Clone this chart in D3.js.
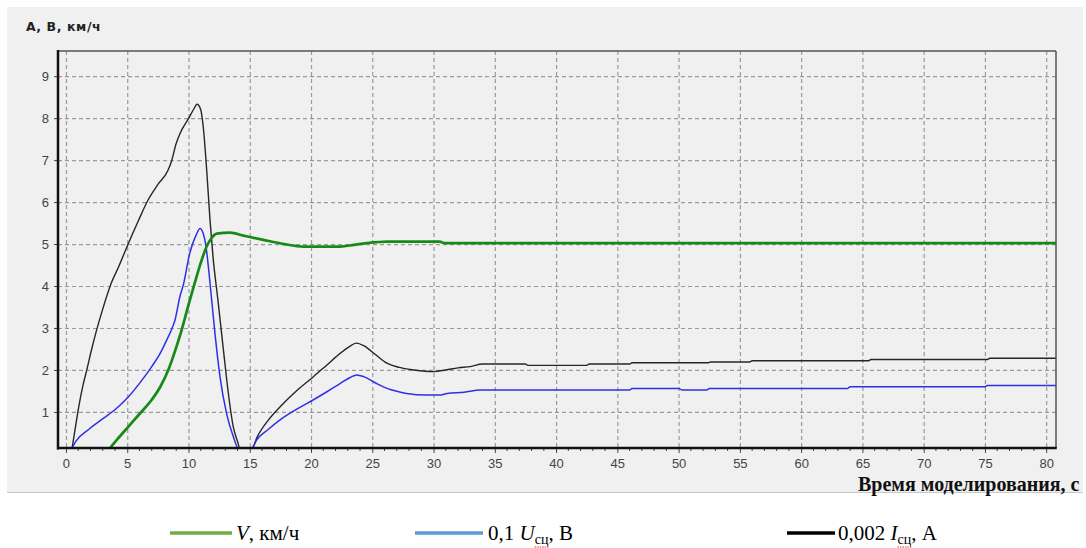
<!DOCTYPE html>
<html><head><meta charset="utf-8">
<script src="https://cdn.jsdelivr.net/npm/d3@7"></script>
<style>body{margin:0;background:#fff}svg{display:block}</style>
</head><body>
<script>
// ---- data ----
const xTicks = [0,5,10,15,20,25,30,35,40,45,50,55,60,65,70,75,80];
const yTicks = [1,2,3,4,5,6,7,8,9];

const tI = [0.5,0.7,1.0,1.4,1.7,2.1,2.5,3.0,3.7,4.3,5.1,5.9,6.7,7.5,8.3,8.6,9.0,9.3,10.0,10.4,10.7,11.0,11.2,11.5,11.75,12.0,12.4,12.85,13.25,13.65,14.0,14.2,15.2,15.6,16.5,17.5,18.8,20.2,21.3,22.4,23.1,23.7,24.3,25.2,26.2,27.2,28.4,30.0,31.0,32.0,33.0,34.0,37.5,37.7,42.5,42.7,46.0,46.2,52.4,52.6,55.8,56.0,65.5,65.7,75.2,75.4,80.8];
const vI = [0.14,0.5,1.05,1.65,2.0,2.5,2.95,3.45,4.07,4.46,5.02,5.55,6.05,6.42,6.74,6.96,7.4,7.63,7.99,8.2,8.33,8.2,7.8,6.7,5.6,4.7,3.67,2.48,1.45,0.65,0.3,0.14,0.14,0.4,0.8,1.13,1.5,1.84,2.12,2.4,2.55,2.64,2.58,2.38,2.16,2.06,2.0,1.96,2.0,2.05,2.08,2.14,2.14,2.11,2.11,2.14,2.14,2.17,2.17,2.19,2.19,2.22,2.22,2.25,2.25,2.28,2.28];

const tU = [0.5,0.8,1.8,2.6,3.45,4.3,5.1,6.0,7.0,7.7,8.2,8.6,8.9,9.3,9.6,10.1,10.6,10.94,11.2,11.4,11.76,12.16,12.57,13.1,13.66,14.07,15.16,15.56,16.5,17.47,18.8,20.2,21.3,22.4,23.2,23.73,24.3,25.2,26.2,27.0,27.8,29.4,30.5,31.1,32.5,33.8,46.0,46.2,50.0,50.3,52.3,52.5,63.8,64.0,75.0,75.2,80.8];
const vU = [0.14,0.3,0.57,0.75,0.93,1.13,1.36,1.68,2.08,2.4,2.7,2.95,3.19,3.75,4.05,4.78,5.2,5.37,5.25,5.0,4.06,2.87,1.84,0.97,0.41,0.14,0.14,0.33,0.58,0.81,1.06,1.29,1.48,1.68,1.82,1.88,1.84,1.7,1.56,1.49,1.44,1.40,1.40,1.44,1.47,1.52,1.52,1.56,1.56,1.52,1.52,1.56,1.56,1.60,1.60,1.63,1.63];

const tV = [3.6,4.2,5.1,6.0,7.0,7.7,8.35,8.9,9.44,10.0,10.5,11.0,11.48,11.9,12.3,13.4,14.5,16.1,17.8,19.4,22.4,23.5,24.5,26.2,30.5,30.9,80.8];
const vV = [0.14,0.35,0.65,0.95,1.29,1.6,2.0,2.45,2.95,3.55,4.06,4.55,4.94,5.15,5.25,5.27,5.2,5.1,5.0,4.94,4.94,4.98,5.02,5.06,5.06,5.02,5.02];

// ---- layout ----
const W = 1086, H = 548;
const svg = d3.select("body").append("svg").attr("width", W).attr("height", H);
svg.append("rect").attr("x",0).attr("y",0).attr("width",W).attr("height",H).attr("fill","#fff");
svg.append("rect").attr("x",7).attr("y",7).attr("width",1076).attr("height",485).attr("fill","#f0f0f0");
svg.append("line").attr("x1",7).attr("x2",1083).attr("y1",492.5).attr("y2",492.5).attr("stroke","#c8c8c8").attr("stroke-width",1);

const L = 58, R = 1056, T = 51, B = 448;
const x = d3.scaleLinear().domain([-0.65, 80.8]).range([L, R]);
const y = d3.scaleLinear().domain([0.14, 9.6]).range([B, T]);

const g = svg.append("g");
// grid
g.selectAll(".vg").data(xTicks).enter().append("line")
  .attr("x1", d=>x(d)+0.5).attr("x2", d=>x(d)+0.5).attr("y1", T).attr("y2", B)
  .attr("stroke","#9a9a9a").attr("stroke-width",1.2).attr("stroke-dasharray","4,3");
g.selectAll(".hg").data(yTicks).enter().append("line")
  .attr("y1", d=>y(d)+0.5).attr("y2", d=>y(d)+0.5).attr("x1", L).attr("x2", R)
  .attr("stroke","#9a9a9a").attr("stroke-width",1.2).attr("stroke-dasharray","4,3");

// series
svg.append("clipPath").attr("id","clip").append("rect").attr("x",L).attr("y",T).attr("width",R-L).attr("height",B-T);
const line = d3.line().x(d=>x(d[0])).y(d=>y(d[1])).curve(d3.curveMonotoneX);
const plot = g.append("g").attr("clip-path","url(#clip)");
plot.append("path").datum(d3.zip(tI,vI)).attr("d",line).attr("fill","none").attr("stroke","#262626").attr("stroke-width",1.4);
plot.append("path").datum(d3.zip(tU,vU)).attr("d",line).attr("fill","none").attr("stroke","#2f2fe6").attr("stroke-width",1.5);
plot.append("path").datum(d3.zip(tV,vV)).attr("d",line).attr("fill","none").attr("stroke","#168a16").attr("stroke-width",2.7);

// frame
g.append("line").attr("x1",L).attr("x2",R).attr("y1",T).attr("y2",T).attr("stroke","#555").attr("stroke-width",1.5);
g.append("line").attr("x1",R).attr("x2",R).attr("y1",T).attr("y2",B).attr("stroke","#555").attr("stroke-width",1.5);

// axes
const fontAx = "'Liberation Sans', Arial, sans-serif";
const ax = g.append("g").attr("transform",`translate(0,${B})`)
  .call(d3.axisBottom(x).tickValues(xTicks).tickSize(5).tickPadding(6).tickFormat(d3.format("d")));
ax.select(".domain").remove();
ax.selectAll("text").attr("font-family",fontAx).attr("font-size",13).attr("fill","#444");
ax.selectAll("line").attr("stroke","#444");
const minor = d3.range(0, 81, 1).filter(d => d % 5 !== 0);
g.selectAll(".mt").data(minor).enter().append("line")
  .attr("x1", d=>x(d)).attr("x2", d=>x(d)).attr("y1", B).attr("y2", B+3)
  .attr("stroke","#444").attr("stroke-width",1);

const ay = g.append("g").attr("transform",`translate(${L},0)`)
  .call(d3.axisLeft(y).tickValues(yTicks).tickSize(4).tickPadding(5).tickFormat(d3.format("d")));
ay.select(".domain").remove();
ay.selectAll("text").attr("font-family",fontAx).attr("font-size",13).attr("fill","#444");
ay.selectAll("line").attr("stroke","#444");

g.append("line").attr("x1",L).attr("x2",L).attr("y1",T-1).attr("y2",B+1.5).attr("stroke","#111").attr("stroke-width",2.5);
g.append("line").attr("x1",L-1).attr("x2",R+0.75).attr("y1",B).attr("y2",B).attr("stroke","#111").attr("stroke-width",2.5);

// titles
svg.append("text").attr("x",26).attr("y",31).attr("font-family","'DejaVu Sans', sans-serif").attr("font-weight","bold")
  .attr("font-size",12.5).attr("letter-spacing",0.6).attr("fill","#222").text("А, В, км/ч");
svg.append("text").attr("x",858).attr("y",491).attr("font-family","'Liberation Serif', 'Times New Roman', serif").attr("font-weight","bold")
  .attr("font-size",20).attr("fill","#111").text("Время моделирования, с");

// legend
const serif = "'Liberation Serif', 'Times New Roman', serif";
const leg = [
  {x1:170, x2:232, tx:236, color:"#70ad47", parts:[["V","italic"],[", км/ч",""]]},
  {x1:415, x2:483, tx:488, color:"#5b9bd5", parts:[["0,1 ",""],["U","italic"],["сц","sub"],[", В",""]]},
  {x1:787, x2:835, tx:838, color:"#000", parts:[["0,002 ",""],["I","italic"],["сц","sub"],[", А",""]]}
];
const ly = 533;
leg.forEach((l,i) => {
  svg.append("line").attr("x1",l.x1).attr("x2",l.x2).attr("y1",ly).attr("y2",ly).attr("stroke",l.color).attr("stroke-width",3.5);
  const t = svg.append("text").attr("x",l.tx).attr("y",ly+7).attr("font-family",serif).attr("font-size",21).attr("fill","#000");
  let prevSub = false;
  l.parts.forEach(p => {
    const s = t.append("tspan").text(p[0]);
    if (p[1]==="italic") s.attr("font-style","italic");
    if (p[1]==="sub") { s.attr("font-size",14).attr("dy",4).classed("sub",true); prevSub = true; }
    else if (prevSub) { s.attr("dy",-4); prevSub = false; }
  });
  t.selectAll("tspan.sub").each(function(){
    const n = this; const start = n.getStartPositionOfChar(0).x; const end = n.getEndPositionOfChar(n.getNumberOfChars()-1).x;
    svg.append("line").attr("x1",start).attr("x2",end).attr("y1",ly+14).attr("y2",ly+14).attr("stroke","#d33").attr("stroke-width",1).attr("stroke-dasharray","1.5,1");
  });
});
</script>
</body></html>
